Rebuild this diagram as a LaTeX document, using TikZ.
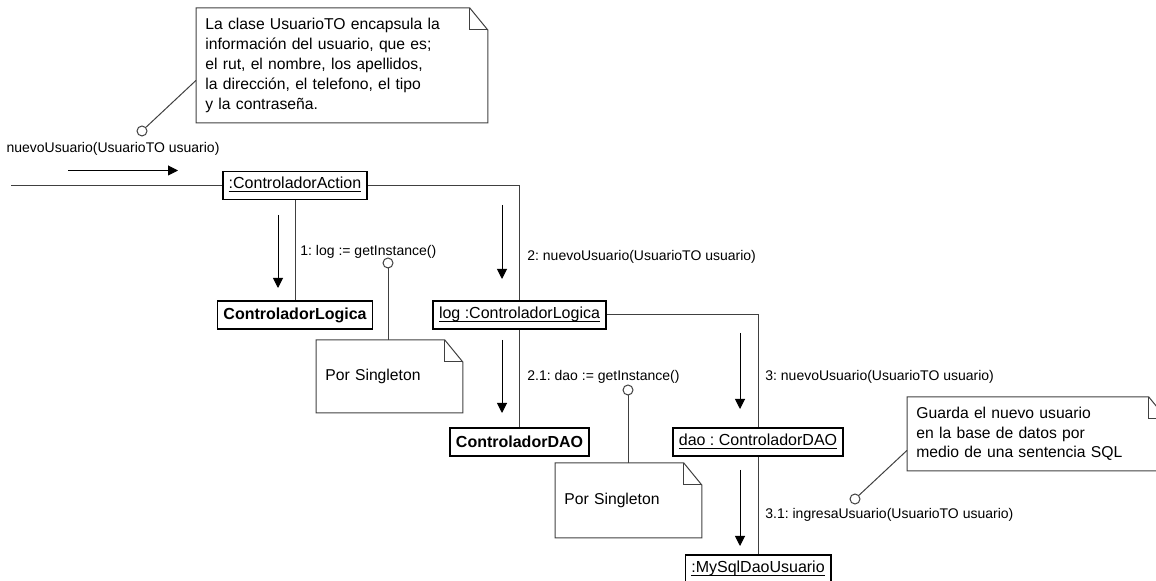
\documentclass[tikz,border=0pt]{standalone}
\usepackage{fontspec}
\setmainfont{Liberation Sans}
\usetikzlibrary{arrows.meta}
\frenchspacing

\tikzset{
  obj/.style={draw=black, line width=0.8pt, fill=white, inner xsep=3pt, inner ysep=0pt,
              minimum height=14pt, font=\fontsize{8}{9.6}\selectfont},
  cls/.style={obj, font=\fontsize{8}{9.6}\selectfont\bfseries},
  link/.style={draw=black!75, line width=0.5pt},
  msgarrow/.style={draw=black, line width=0.5pt, -{Triangle[length=5pt,width=5pt]}},
  msg/.style={font=\fontsize{7}{8.4}\selectfont, inner sep=0pt, anchor=west},
  notebox/.style={font=\fontsize{7.85}{9.9}\selectfont, align=left, anchor=north west,
                  inner xsep=4.5pt, inner ysep=0pt},
  notedot/.style={circle, draw=black!75, fill=white, line width=0.5pt,
                  minimum size=5pt, inner sep=0pt},
}

% instance names are underlined just under the baseline
\newcommand{\objlabel}[1]{\underline{\smash{#1}\vphantom{A}}}

% outline of a note with the folded corner
\newcommand{\dogear}[1]{%
  \draw[link] (#1.south west) -- (#1.north west) -- ([xshift=-9pt]#1.north east)
    -- ([yshift=-11pt]#1.north east) -- (#1.south east) -- cycle;
  \draw[link] ([xshift=-9pt]#1.north east) |- ([yshift=-11pt]#1.north east);
}

\begin{document}
\begin{tikzpicture}[x=0.5pt, y=-0.5pt]
  \useasboundingbox (0,0) rectangle (1156,581);
  \clip (0,0) rectangle (1156,581);

  % objects
  \node[obj] (act) at (295,185.5) {\objlabel{:ControladorAction}};
  \node[cls] (cl) at (295,315) {ControladorLogica};
  \node[obj] (log) at (519.5,315) {\objlabel{log :ControladorLogica}};
  \node[cls] (cdao) at (519.5,442) {ControladorDAO};
  \node[obj] (dao) at (758,442) {\objlabel{dao : ControladorDAO}};
  \node[obj] (mysql) at (758,569) {\objlabel{:MySqlDaoUsuario}};

  % links
  \coordinate (entry) at (11,185.5);
  \draw[link] (entry) -- (act.west);
  \draw[link] (act) -- (cl);
  \draw[link] (act.east) -| (log.north);
  \draw[link] (log) -- (cdao);
  \draw[link] (log.east) -| (dao.north);
  \draw[link] (dao) -- (mysql);

  % messages
  \node[msg, anchor=center] (m0) at (113,149) {nuevoUsuario(UsuarioTO usuario)};
  \node[msg] (m1) at (300,252) {1: log := getInstance()};
  \node[msg] (m2) at (527,257) {2: nuevoUsuario(UsuarioTO usuario)};
  \node[msg] (m21) at (527,377) {2.1: dao := getInstance()};
  \node[msg] (m3) at (765,377) {3: nuevoUsuario(UsuarioTO usuario)};
  \node[msg] (m31) at (765,515) {3.1: ingresaUsuario(UsuarioTO usuario)};

  \coordinate (a0s) at (68,170.5);  \coordinate (a0e) at (178,170.5);
  \coordinate (a1s) at (278,215);   \coordinate (a1e) at (278,288);
  \coordinate (a2s) at (502,205);   \coordinate (a2e) at (502,279);
  \coordinate (a21s) at (502,340);  \coordinate (a21e) at (502,413);
  \coordinate (a3s) at (740,333);   \coordinate (a3e) at (740,409);
  \coordinate (a31s) at (740,470);  \coordinate (a31e) at (740,546);
  \draw[msgarrow] (a0s) -- (a0e);
  \draw[msgarrow] (a1s) -- (a1e);
  \draw[msgarrow] (a2s) -- (a2e);
  \draw[msgarrow] (a21s) -- (a21e);
  \draw[msgarrow] (a3s) -- (a3e);
  \draw[msgarrow] (a31s) -- (a31e);

  % notes
  \node[notebox, text width=136.5pt, minimum height=57pt] (n0) at (196,8)
       {La clase UsuarioTO encapsula la\\
        información del usuario, que es;\\
        el rut, el nombre, los apellidos,\\
        la dirección, el telefono, el tipo\\
        y la contraseña.};
  \node[notebox, text width=64pt, minimum height=36pt] (n1) at (316,340) {Por Singleton};
  \node[notebox, text width=64pt, minimum height=37pt] (n2) at (555,463) {Por Singleton};
  \node[notebox, text width=120.5pt, minimum height=36.5pt] (n3) at (907,397)
       {Guarda el nuevo usuario\\
        en la base de datos por\\
        medio de una sentencia SQL};
  \dogear{n0}
  \dogear{n1}
  \dogear{n2}
  \dogear{n3}

  % note anchors
  \node[notedot] (c0) at (142,131) {};
  \node[notedot] (c1) at (388,263) {};
  \node[notedot] (c2) at (628,390) {};
  \node[notedot] (c3) at (855,499) {};
  \draw[link] (c0) -- ([yshift=-7.5pt]n0.west);
  \draw[link] (c1) -- (c1 |- n1.north);
  \draw[link] (c2) -- (c2 |- n2.north);
  \draw[link] (c3) -- ([yshift=-8.25pt]n3.west);
\end{tikzpicture}
\end{document}
